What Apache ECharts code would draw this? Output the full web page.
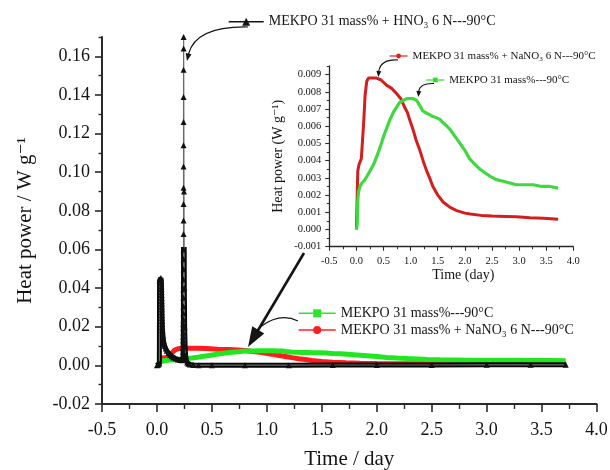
<!DOCTYPE html>
<html><head><meta charset="utf-8">
<script src="https://cdn.jsdelivr.net/npm/echarts@6/dist/echarts.min.js"></script>
<style>html,body{margin:0;padding:0;background:#fff}#c{width:610px;height:470px}</style>
</head><body><div id="c"></div>
<script>
// ---------------- data ----------------
const mekpoDays  = [0, 0.015, 0.025, 0.04, 0.066, 0.1, 0.16, 0.25, 0.32, 0.37,
  0.44, 0.5, 0.56, 0.62, 0.68, 0.74, 0.8, 0.87, 0.93, 0.99,
  1.05, 1.11, 1.14, 1.17, 1.22, 1.27, 1.33, 1.39, 1.47, 1.54,
  1.6, 1.67, 1.73, 1.82, 1.91, 2.0, 2.09, 2.18, 2.28, 2.37,
  2.46, 2.58, 2.71, 2.83, 2.95, 3.1, 3.26, 3.42, 3.57, 3.72];
const mekpoPower = [0, 0.0003, 0.0017, 0.0022, 0.0025, 0.0027, 0.0029, 0.0034, 0.0038, 0.0042,
  0.0048, 0.0054, 0.0059, 0.0064, 0.0068, 0.0071, 0.0074, 0.0075, 0.0076, 0.0076,
  0.0076, 0.0075, 0.0075, 0.0072, 0.0069, 0.0068, 0.0067, 0.0066, 0.0065, 0.0064,
  0.0062, 0.006, 0.0058, 0.0054, 0.005, 0.0046, 0.0041, 0.0038, 0.0035, 0.0033,
  0.0031, 0.0029, 0.0028, 0.0027, 0.0026, 0.0026, 0.0026, 0.0025, 0.0025, 0.0024];

const nano3Days  = [0, 0.02, 0.025, 0.05, 0.09, 0.13, 0.16, 0.19, 0.22, 0.3,
  0.37, 0.45, 0.55, 0.65, 0.74, 0.82, 0.89, 0.94, 0.98, 1.045,
  1.1, 1.17, 1.23, 1.29, 1.35, 1.41, 1.5, 1.6, 1.72, 1.85,
  2.0, 2.1, 2.3, 2.5, 2.75, 2.95, 3.2, 3.45, 3.72];
const nano3Power = [0, 0.0001, 0.0034, 0.0038, 0.0041, 0.006, 0.0078, 0.0086, 0.0088, 0.0088,
  0.0088, 0.0087, 0.0084, 0.0082, 0.0079, 0.0076, 0.0071, 0.0068, 0.0064, 0.0058,
  0.0052, 0.0046, 0.004, 0.00345, 0.003, 0.0025, 0.002, 0.0016, 0.0013, 0.0011,
  0.00095, 0.0009, 0.00082, 0.00078, 0.00076, 0.00074, 0.00068, 0.00065, 0.0006];

const hno3Days  = [0, 0.012, 0.022, 0.024, 0.03, 0.036, 0.039, 0.04, 0.041, 0.041,
  0.042, 0.042, 0.043, 0.043, 0.044, 0.044, 0.045, 0.045, 0.046, 0.046,
  0.047, 0.048, 0.049, 0.05, 0.052, 0.054, 0.057, 0.06, 0.065, 0.07,
  0.08, 0.09, 0.105, 0.12, 0.135, 0.15, 0.17, 0.19, 0.21, 0.228,
  0.236, 0.238, 0.238, 0.239, 0.239, 0.239, 0.24, 0.24, 0.24, 0.24,
  0.241, 0.241, 0.241, 0.241, 0.241, 0.242, 0.242, 0.242, 0.242, 0.242,
  0.242, 0.242, 0.242, 0.242, 0.242, 0.242, 0.242, 0.242, 0.243, 0.243,
  0.246, 0.249, 0.252, 0.256, 0.261, 0.267, 0.275, 0.285, 0.3, 0.33,
  0.38, 0.5, 0.8, 1.2, 1.6, 2.0, 2.5, 3.0, 3.4, 3.72];
const hno3Power = [0, 0.0003, 0.001, 0.044, 0.0448, 0.0452, 0.044, 0.0425, 0.041, 0.0395,
  0.038, 0.0365, 0.035, 0.0335, 0.032, 0.0305, 0.029, 0.0275, 0.026, 0.0245,
  0.023, 0.0215, 0.02, 0.0185, 0.017, 0.0155, 0.014, 0.0125, 0.0112, 0.0101,
  0.0087, 0.0076, 0.0064, 0.0054, 0.0047, 0.0041, 0.0035, 0.0031, 0.0028, 0.0027,
  0.0035, 0.005, 0.007, 0.009, 0.011, 0.013, 0.015, 0.017, 0.0195, 0.0215,
  0.0238, 0.027, 0.0305, 0.035, 0.0394, 0.0445, 0.0497, 0.055, 0.06, 0.068,
  0.075, 0.0835, 0.092, 0.103, 0.114, 0.126, 0.139, 0.153, 0.164, 0.17,
  0.09, 0.04, 0.02, 0.01, 0.005, 0.0028, 0.0015, 0.0008, 0.0004, 0.0002,
  0.0001, 0.0001, 0.0001, 0.0001, 0.0002, 0.0002, 0.0002, 0.0003, 0.0003, 0.0003];

const mainXTicks  = [-0.5, 0, 0.5, 1, 1.5, 2, 2.5, 3, 3.5, 4];
const mainXMinor  = [-0.25, 0.25, 0.75, 1.25, 1.75, 2.25, 2.75, 3.25, 3.75];
const mainYTicks  = [-0.02, 0, 0.02, 0.04, 0.06, 0.08, 0.1, 0.12, 0.14, 0.16];
const mainYMinor  = [-0.01, 0.01, 0.03, 0.05, 0.07, 0.09, 0.11, 0.13, 0.15, 0.17];
const insetXTicks = [-0.5, 0, 0.5, 1, 1.5, 2, 2.5, 3, 3.5, 4];
const insetXMinor = [-0.25, 0.25, 0.75, 1.25, 1.75, 2.25, 2.75, 3.25, 3.75];
const insetYTicks = [-0.001, 0, 0.001, 0.002, 0.003, 0.004, 0.005, 0.006, 0.007, 0.008, 0.009];
const insetYMinor = [-0.0005, 0.0005, 0.0015, 0.0025, 0.0035, 0.0045, 0.0055, 0.0065, 0.0075, 0.0085, 0.0095];

const NAME_G = 'MEKPO 31 mass%---90°C';
const NAME_R = 'MEKPO 31 mass% + NaNO\u2083 6 N---90°C';
const NAME_H = 'MEKPO 31 mass% + HNO\u2083 6 N---90°C';

// ---------------- helpers ----------------
const FONT = "'Liberation Serif','DejaVu Serif','Times New Roman',serif";
const INK = '#141414';
const zip = (a, b) => a.map((v, i) => [v, b[i]]);

const MAIN = {left: 102, right: 13.5, top: 37, bottom: 66};
const INSET = {left: 329.3, right: 36.7, top: 66, bottom: 223.3};
const mainH = 470 - MAIN.top - MAIN.bottom;
const thickTop = MAIN.top + mainH * (0.17 - 0.06) / 0.19;

function majorAxis(grid, min, max, ticks, digits, o) {
  return {
    type: 'value', gridIndex: grid, min: min, max: max, position: o.pos,
    splitLine: {show: false},
    axisLine: {show: true, onZero: false, lineStyle: {color: '#2a2a2a', width: o.lw}},
    axisTick: {show: true, customValues: ticks, length: o.tl, lineStyle: {color: '#2a2a2a', width: o.tw}},
    axisLabel: {show: true, customValues: ticks, margin: o.margin, fontFamily: FONT, fontSize: o.fs, color: INK,
      formatter: v => Number(v).toFixed(digits)},
    name: o.name, nameLocation: 'middle', nameGap: o.gap,
    nameTextStyle: {fontFamily: FONT, fontSize: o.nfs, color: INK, padding: o.npad || 0}
  };
}
function minorAxis(grid, min, max, ticks, pos, len, tw) {
  return {
    type: 'value', gridIndex: grid, min: min, max: max, position: pos,
    splitLine: {show: false}, axisLine: {show: false, onZero: false},
    axisLabel: {show: false},
    axisTick: {show: true, customValues: ticks, length: len, lineStyle: {color: '#2a2a2a', width: tw}}
  };
}
function head(tip, from, len, hw) {
  const dx = tip[0] - from[0], dy = tip[1] - from[1];
  const d = Math.hypot(dx, dy), ux = dx / d, uy = dy / d;
  const bx = tip[0] - ux * len, by = tip[1] - uy * len;
  return {type: 'polygon', shape: {points: [tip, [bx - uy * hw, by + ux * hw], [bx + uy * hw, by - ux * hw]]},
    style: {fill: INK}};
}
function curve(x1, y1, cx, cy, x2, y2, w) {
  return {type: 'bezierCurve', shape: {x1: x1, y1: y1, cpx1: cx, cpy1: cy, x2: x2, y2: y2},
    style: {stroke: INK, lineWidth: w, fill: null}};
}
function legend(name, left, top, iw, ih, fs, color, lw) {
  return {
    data: [name], left: left, top: top, orient: 'horizontal', padding: 0,
    itemWidth: iw, itemHeight: ih, selectedMode: false,
    textStyle: {fontFamily: FONT, fontSize: fs, lineHeight: fs + 2, color: INK},
    lineStyle: {color: color, width: lw}, itemStyle: {color: color, borderWidth: 0}
  };
}

const chart = echarts.init(document.getElementById('c'), null, {renderer: 'canvas'});
chart.setOption({
  animation: false,
  backgroundColor: '#fff',
  grid: [
    Object.assign({outerBoundsMode: 'none', containLabel: false}, MAIN),
    Object.assign({outerBoundsMode: 'none', containLabel: false}, INSET),
    {outerBoundsMode: 'none', containLabel: false, left: MAIN.left, right: MAIN.right, top: thickTop, bottom: MAIN.bottom}
  ],
  xAxis: [
    majorAxis(0, -0.5, 4, mainXTicks, 1, {pos: 'bottom', lw: 2, tl: 8, tw: 1.6, margin: 17, fs: 18, name: 'Time / day', gap: 45, nfs: 21}),
    minorAxis(0, -0.5, 4, mainXMinor, 'bottom', 5, 1.4),
    majorAxis(1, -0.5, 4, insetXTicks, 1, {pos: 'bottom', lw: 1.3, tl: 4, tw: 1.1, margin: 9, fs: 10.5, name: 'Time (day)', gap: 22, nfs: 14, npad: [0, 0, 0, 24]}),
    minorAxis(1, -0.5, 4, insetXMinor, 'bottom', 2.5, 1),
    {type: 'value', gridIndex: 2, min: -0.5, max: 4, show: false}
  ],
  yAxis: [
    majorAxis(0, -0.02, 0.17, mainYTicks, 2, {pos: 'left', lw: 2, tl: 7, tw: 1.6, margin: 12, fs: 18, name: 'Heat power / W g\u207B\u00B9', gap: 66, nfs: 21}),
    minorAxis(0, -0.02, 0.17, mainYMinor, 'left', 3.5, 1.4),
    majorAxis(1, -0.001, 0.0095, insetYTicks, 3, {pos: 'left', lw: 1.3, tl: 4, tw: 1.1, margin: 8, fs: 10.5, name: 'Heat power (W g\u207B\u00B9)', gap: 44, nfs: 14}),
    minorAxis(1, -0.001, 0.0095, insetYMinor, 'left', 2.5, 1),
    {type: 'value', gridIndex: 2, min: -0.02, max: 0.06, show: false}
  ],
  legend: [
    legend(NAME_H, 228, 21.7 - 8, 35, 10, 14, INK, 1.4),
    legend(NAME_G, 298, 313.3 - 8, 37, 10, 14, '#2be52b', 1.4),
    legend(NAME_R, 298, 330 - 8, 37, 10, 14, '#ff2020', 1.4),
    legend(NAME_R, 389, 56 - 6.5, 18, 6, 11, '#e02020', 1.2),
    legend(NAME_G, 425.7, 80 - 6.5, 18, 6, 11, '#33dd33', 1.2)
  ],
  series: [
    {type: 'line', name: NAME_R, xAxisIndex: 0, yAxisIndex: 0, data: zip(nano3Days, nano3Power),
      symbol: 'circle', showSymbol: false, lineStyle: {color: '#ff1c1c', width: 5}, itemStyle: {color: '#ff1c1c'}, z: 2},
    {type: 'line', name: NAME_G, xAxisIndex: 0, yAxisIndex: 0, data: zip(mekpoDays, mekpoPower),
      symbol: 'rect', showSymbol: false, lineStyle: {color: '#22e622', width: 5}, itemStyle: {color: '#22e622'}, z: 2},
    {type: 'line', name: NAME_H, xAxisIndex: 0, yAxisIndex: 0, data: zip(hno3Days, hno3Power),
      symbol: 'triangle', symbolSize: 6, showSymbol: true, showAllSymbol: true,
      lineStyle: {color: '#6a6a6a', width: 1.2}, itemStyle: {color: '#111'}, z: 4},
    {type: 'line', name: NAME_H, xAxisIndex: 4, yAxisIndex: 4, data: zip(hno3Days, hno3Power), clip: true,
      symbol: 'none', lineStyle: {color: '#050505', width: 5}, z: 3},
    {type: 'line', name: NAME_R, xAxisIndex: 2, yAxisIndex: 2, data: zip(nano3Days, nano3Power),
      symbol: 'circle', showSymbol: false, lineStyle: {color: '#d41e1e', width: 3}, z: 2},
    {type: 'line', name: NAME_G, xAxisIndex: 2, yAxisIndex: 2, data: zip(mekpoDays, mekpoPower),
      symbol: 'rect', showSymbol: false, lineStyle: {color: '#3fd83f', width: 3.2}, z: 2}
  ],
  graphic: {elements: [
    curve(248, 27, 196, 26, 188.5, 54, 1.2), head([187, 61], [189, 52], 7.5, 3),
    curve(398, 60, 381, 59, 378.8, 71, 1.1), head([378.3, 77], [379, 69], 6, 2.5),
    curve(434, 83.5, 420, 83, 418.8, 91, 1.1), head([418.3, 97], [419, 89], 6, 2.5),
    curve(298, 321, 280, 312, 260, 327, 1.2),
    {type: 'line', shape: {x1: 304, y1: 253, x2: 257, y2: 332}, style: {stroke: INK, lineWidth: 2.6}},
    head([248, 347], [304, 253], 20, 7)
  ]}
});
</script></body></html>
